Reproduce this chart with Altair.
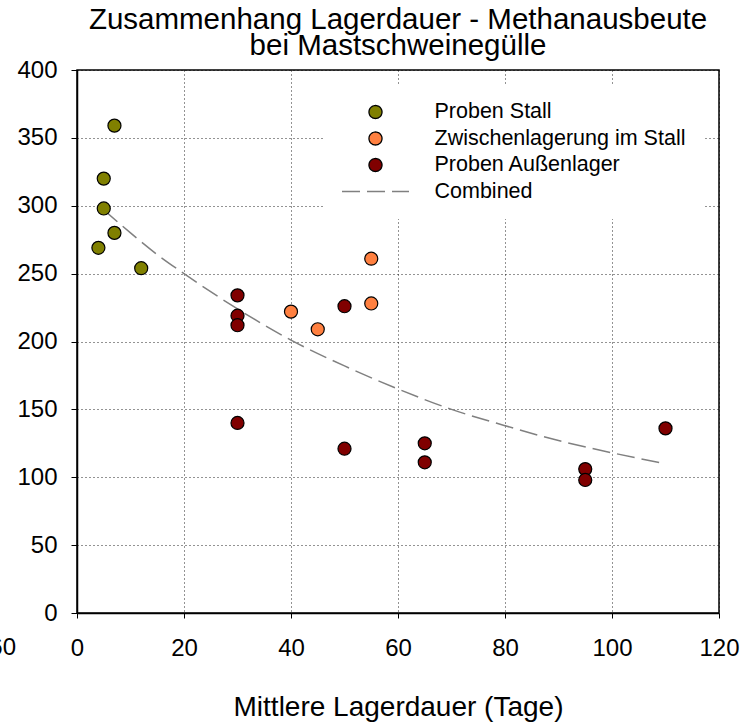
import altair as alt
import pandas as pd

# ---- text ----
title_lines = ["Zusammenhang Lagerdauer - Methanausbeute", "bei Mastschweinegülle"]
x_title = "Mittlere Lagerdauer (Tage)"
stray_label = ["60"]

# ---- series definitions ----
series_names = ["Proben Stall", "Zwischenlagerung im Stall", "Proben Außenlager", "Combined"]
series_fill = ["#808000", "#FF8040", "#800000", "#808080"]
series_stroke = ["#000000", "#000000", "#000000", "#808080"]
series_shape = ["circle", "circle", "circle", "stroke"]
series_size = [170, 170, 170, 4489]
series_dash = [[1, 0], [1, 0], [1, 0], [18, 7]]

# ---- data ----
stall_x = [4, 5, 5, 7, 7, 12]
stall_y = [269, 298, 320, 280, 359, 254]

zwischen_x = [40, 45, 55, 55]
zwischen_y = [222, 209, 261, 228]

aussen_x = [30, 30, 30, 30, 50, 50, 65, 65, 95, 95, 110]
aussen_y = [234, 219, 212, 140, 226, 121, 125, 111, 106, 98, 136]

curve_x = [5, 10, 15, 20, 30, 40, 50, 60, 70, 80, 90, 100, 110]
curve_y = [297, 280, 264, 250, 224, 201, 182, 165, 150, 138, 127, 118, 110]

x_ticks = [0, 20, 40, 60, 80, 100, 120]
y_ticks = [0, 50, 100, 150, 200, 250, 300, 350, 400]

points = pd.DataFrame({
    "x": stall_x + zwischen_x + aussen_x,
    "y": stall_y + zwischen_y + aussen_y,
    "series": [series_names[0]] * len(stall_x)
    + [series_names[1]] * len(zwischen_x)
    + [series_names[2]] * len(aussen_x),
})
curve = pd.DataFrame({"x": curve_x, "y": curve_y, "series": [series_names[3]] * len(curve_x)})
stray = pd.DataFrame({"label": stray_label})

FONT = "Liberation Sans"

leg = alt.Legend(
    title=None, orient="none", legendX=247, legendY=15,
    fillColor="white", padding=17, clipHeight=20, rowPadding=4.5,
    labelOffset=24.5, labelFontSize=21.5, labelFont=FONT, labelColor="black",
    labelLimit=500, symbolStrokeWidth=1.3, symbolOpacity=1,
)

x_scale = alt.Scale(domain=[0, 120], nice=False, zero=False)
y_scale = alt.Scale(domain=[0, 400], nice=False)

x_axis = alt.Axis(
    values=x_ticks, title=x_title, tickSize=5, labelPadding=37,
    labelBaseline="alphabetic", labelFontSize=24, labelFlush=False,
    titleFontSize=28, titleFontWeight="normal", titleBaseline="alphabetic",
    titleY=102, titleColor="black",
)
y_axis = alt.Axis(
    values=y_ticks, title=None, tickSize=6, labelPadding=14,
    labelFontSize=24, labelFlush=False,
)

fill_scale = alt.Scale(domain=series_names, range=series_fill)
stroke_scale = alt.Scale(domain=series_names, range=series_stroke)
shape_scale = alt.Scale(domain=series_names, range=series_shape)
size_scale = alt.Scale(type="ordinal", domain=series_names, range=series_size)
dash_scale = alt.Scale(domain=series_names, range=series_dash)

line = alt.Chart(curve).mark_line(strokeWidth=1.5, interpolate="monotone").encode(
    x=alt.X("x:Q", scale=x_scale, axis=x_axis),
    y=alt.Y("y:Q", scale=y_scale, axis=y_axis),
    stroke=alt.Stroke("series:N", scale=stroke_scale, legend=leg),
    strokeDash=alt.StrokeDash("series:N", scale=dash_scale, legend=leg),
)

pts = alt.Chart(points).mark_point(filled=True, opacity=1, strokeWidth=1.2).encode(
    x=alt.X("x:Q", scale=x_scale, axis=x_axis),
    y=alt.Y("y:Q", scale=y_scale, axis=y_axis),
    fill=alt.Fill("series:N", scale=fill_scale, legend=leg),
    stroke=alt.Stroke("series:N", scale=stroke_scale, legend=leg),
    shape=alt.Shape("series:N", scale=shape_scale, legend=leg),
    size=alt.Size("series:N", scale=size_scale, legend=leg),
)

stray_text = alt.Chart(stray).mark_text(
    align="right", baseline="alphabetic", fontSize=24, font=FONT, color="black"
).encode(text="label:N", x=alt.value(-61), y=alt.value(585))

chart = alt.layer(line, pts, stray_text).properties(
    width=642,
    height=543,
    padding={"left": 77, "top": 70, "right": 25, "bottom": 110},
    autosize=alt.AutoSizeParams(type="none"),
    title=alt.TitleParams(
        text=title_lines, fontSize=29.5, fontWeight="normal", font=FONT,
        color="black", anchor="middle", lineHeight=26, offset=-3,
    ),
).configure(font=FONT, background="white").configure_view(
    stroke="black", strokeWidth=1.5
).configure_axis(
    grid=True, gridColor="black", gridDash=[1, 3], gridWidth=1, gridOpacity=0.85,
    domainColor="black", domainWidth=1.5, tickColor="black", tickWidth=1,
    labelColor="black", labelFont=FONT, titleFont=FONT, labelOverlap=False,
)

chart.save("out.html", embed_options={"renderer": "svg", "actions": False})
